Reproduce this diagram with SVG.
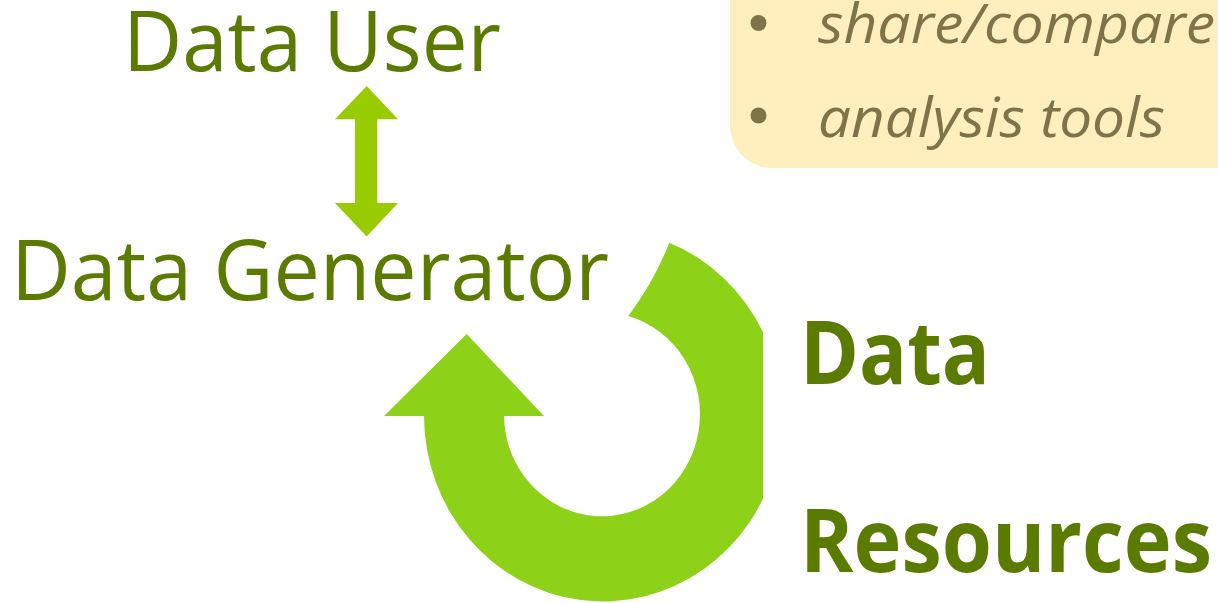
<svg xmlns="http://www.w3.org/2000/svg" width="1218" height="603" viewBox="0 0 1218 603">
  <style>
    .label { font-family: "Open Sans", "Noto Sans", "Liberation Sans", sans-serif; fill: #5B7B00; }
    .bold { font-weight: 700; }
    .note { font-family: "Open Sans", "Noto Sans", "Liberation Sans", sans-serif; font-style: italic; fill: #7F7449; }
    .bullet { fill: #7F7449; }
  </style>
  <defs>
    <clipPath id="cycle-clip">
      <rect x="0" y="0" width="763" height="603"/>
    </clipPath>
  </defs>
  <rect width="1218" height="603" fill="#FFFFFF"/>

  <!-- notes panel, running off the top and right edges -->
  <g id="notes">
    <path d="M730,-10 H1228 V168 H772 A42,42 0 0 1 730,126 Z" fill="#FFEFBF"/>
    <circle class="bullet" cx="758.5" cy="23" r="8"/>
    <text class="note" x="818" y="43" font-size="54" textLength="397" lengthAdjust="spacingAndGlyphs">share/compare</text>
    <circle class="bullet" cx="758.5" cy="115.5" r="8"/>
    <text class="note" x="818" y="137" font-size="54" textLength="347" lengthAdjust="spacingAndGlyphs">analysis tools</text>
  </g>

  <g id="connectors">
    <!-- two-way arrow between user and generator -->
    <polygon id="user-generator" fill="#99CC00"
      points="366.7,86 398,119.3 377.3,119.3 377.3,203 398,203 366.7,236.5 335,203 355,203 355,119.3 335,119.3"/>
    <!-- curved cycle arrow feeding back to the generator -->
    <g clip-path="url(#cycle-clip)">
      <path id="resources-cycle" fill="#8DD118"
        d="M384,416 L466.7,334 L544,416 L504,416
           A98,102 0 1 0 628.3,316
           Q654.6,280.6 669.3,242.7
           A179,186 0 1 1 424,416 Z"/>
    </g>
  </g>

  <g id="data-user">
    <text class="label" x="123" y="71" font-size="85" textLength="378" lengthAdjust="spacingAndGlyphs">Data User</text>
  </g>

  <g id="data-generator">
    <text class="label" x="11" y="300" font-size="84" textLength="598" lengthAdjust="spacingAndGlyphs">Data Generator</text>
  </g>

  <g id="data-resources">
    <text class="label bold" x="800" y="384" font-size="87" textLength="190" lengthAdjust="spacingAndGlyphs">Data</text>
    <text class="label bold" x="800" y="572" font-size="87" textLength="412" lengthAdjust="spacingAndGlyphs">Resources</text>
  </g>
</svg>
